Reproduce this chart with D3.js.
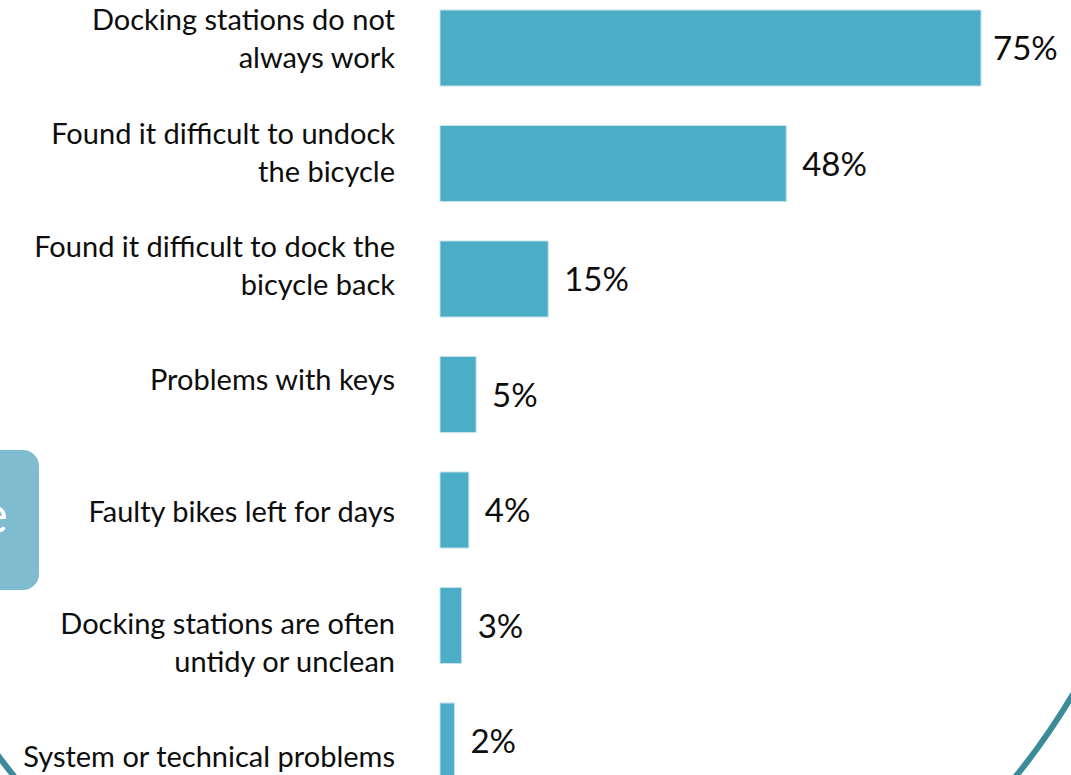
<!DOCTYPE html>
<html>
<head>
<meta charset="utf-8">
<style>
body { margin: 0; background: #fff; }
svg { display: block; }
text { font-family: Lato, "Open Sans", sans-serif; }
</style>
</head>
<body>
<svg width="1071" height="775"></svg>
<script src="https://d3js.org/d3.v7.min.js"></script>
<script>
// problems reported with the docking stations
var categories = [
  ["Docking stations do not", "always work"],
  ["Found it difficult to undock", "the bicycle"],
  ["Found it difficult to dock the", "bicycle back"],
  ["Problems with keys"],
  ["Faulty bikes left for days"],
  ["Docking stations are often", "untidy or unclean"],
  ["System or technical problems"]
];
var values = [75, 48, 15, 5, 4, 3, 2];

// label nudges to follow the original slide (px, vertical)
var labelShift = [-8, -10, -12, -14, 3, 18, 17];

var svg = d3.select("svg");

// decorative ring and side tab behind the chart
svg.append("ellipse")
    .attr("cx", 515).attr("cy", 300)
    .attr("rx", 665).attr("ry", 724)
    .attr("fill", "none")
    .attr("stroke", "#3b8b9b")
    .attr("stroke-width", 6);

svg.append("rect")
    .attr("x", -20).attr("y", 450)
    .attr("width", 59).attr("height", 140)
    .attr("rx", 16)
    .attr("fill", "#7fbccf");
svg.append("text")
    .attr("x", 8).attr("y", 533)
    .attr("text-anchor", "end")
    .attr("fill", "#fff")
    .attr("font-size", 52)
    .text("e");

var x = d3.scaleLinear()
    .domain([0, 75])
    .range([440, 981]);

var y = d3.scaleBand()
    .domain(d3.range(values.length))
    .range([-9.75, 798.75])
    .paddingInner(0.342)
    .paddingOuter(0.171);

var rows = svg.append("g").selectAll("g")
    .data(values)
  .enter().append("g");

rows.append("rect")
    .attr("x", x(0))
    .attr("y", function(d, i) { return y(i); })
    .attr("width", function(d) { return x(d) - x(0); })
    .attr("height", y.bandwidth())
    .attr("fill", "#4badc6")
    .attr("stroke", "#c4e2ea")
    .attr("stroke-width", 1);

rows.append("text") // value labels
    .attr("x", function(d, i) { return x(d) + (i == 0 ? 12 : 16); })
    .attr("y", function(d, i) { return y(i) + y.bandwidth() / 2 + 12; })
    .attr("font-size", 33)
    .attr("fill", "#0d0d0d")
    .text(function(d) { return d + "%"; });

rows.append("text") // category labels
    .attr("text-anchor", "end")
    .attr("font-size", 29)
    .attr("fill", "#0d0d0d")
    .attr("transform", function(d, i) {
      var n = categories[i].length;
      var cy = y(i) + y.bandwidth() / 2 + 9 - (n - 1) * 19 + labelShift[i];
      return "translate(395," + cy + ")";
    })
    .selectAll("tspan")
    .data(function(d, i) { return categories[i]; })
  .enter().append("tspan")
    .attr("x", 0)
    .attr("dy", function(d, j) { return j == 0 ? 0 : 38; })
    .text(function(d) { return d; });
</script>
</body>
</html>
